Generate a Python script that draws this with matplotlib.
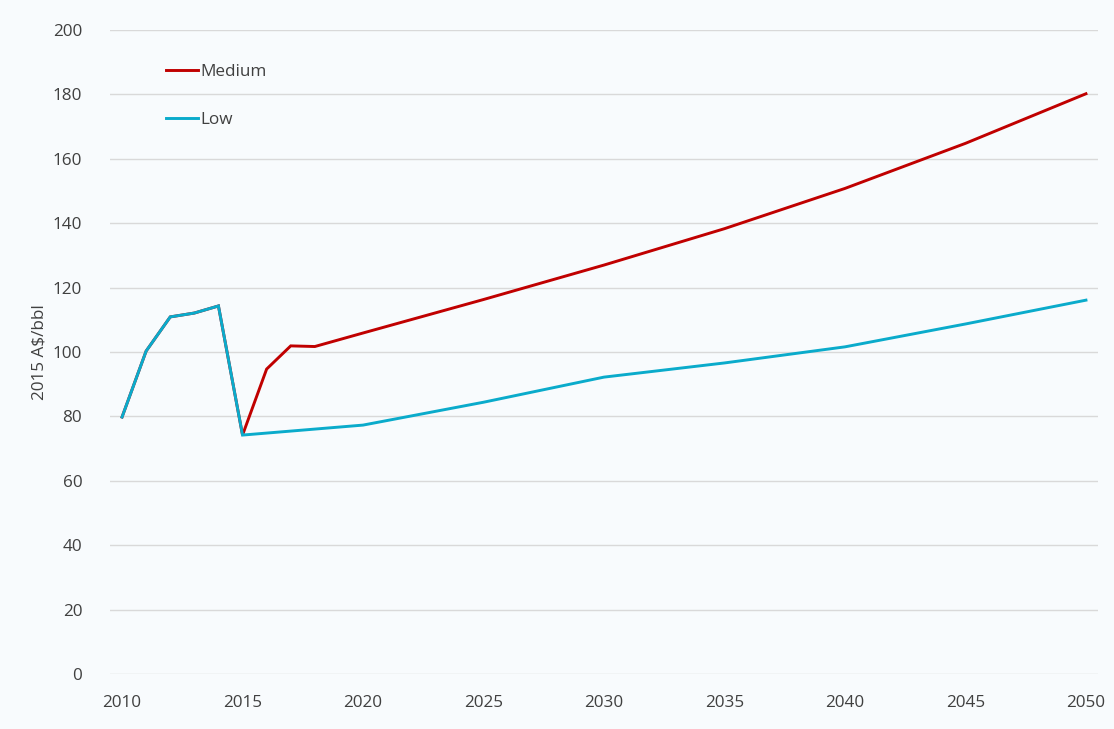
import matplotlib
matplotlib.use('Agg')
import matplotlib.pyplot as plt

# DATOS
years_hist = [2010, 2011, 2012, 2013, 2014, 2015]
price_hist = [79.8, 100.3, 110.9, 112.1, 114.3, 74.2]

years_medium = [2015, 2016, 2017, 2018, 2020, 2025, 2030, 2035, 2040, 2045, 2050]
price_medium = [74.2, 94.7, 101.9, 101.7, 105.9, 116.3, 127.0, 138.3, 150.8, 164.8, 180.2]

years_low = [2015, 2020, 2025, 2030, 2035, 2040, 2045, 2050]
price_low = [74.2, 77.3, 84.4, 92.2, 96.6, 101.6, 108.7, 116.1]

x_ticks = [2010, 2015, 2020, 2025, 2030, 2035, 2040, 2045, 2050]
y_ticks = [0, 20, 40, 60, 80, 100, 120, 140, 160, 180, 200]

# ESTILO
bg = '#F8FBFD'
red = '#C00000'
cyan = '#0AABCB'
text_color = '#404040'
plt.rcParams['font.family'] = ['Open Sans', 'DejaVu Sans']
fs = 12.3

fig = plt.figure(figsize=(11.14, 7.29), dpi=100, facecolor=bg)
ax = fig.add_axes([110 / 1114, 55 / 729, 988 / 1114, 644 / 729])
ax.set_facecolor(bg)

# series
ax.plot(years_hist + years_medium[1:], price_hist + price_medium[1:],
        color=red, lw=2.1, label='Medium', solid_joinstyle='miter')
ax.plot(years_hist + years_low[1:], price_hist + price_low[1:],
        color=cyan, lw=2.1, label='Low', solid_joinstyle='miter')

ax.set_xlim(2009.5, 2050.5)
ax.set_ylim(0, 200)
ax.set_xticks(x_ticks)
ax.set_yticks(y_ticks)
ax.grid(axis='y', color='#D9D9D9', lw=1)
ax.set_axisbelow(True)
for s in ax.spines.values():
    s.set_visible(False)
ax.tick_params(length=0, labelsize=fs, colors=text_color)
ax.tick_params(axis='y', pad=20)
ax.tick_params(axis='x', pad=15)

ax.set_ylabel('2015 A$/bbl', fontsize=fs, color=text_color, labelpad=4)

leg = ax.legend(loc='upper left', bbox_to_anchor=(0.048, 0.96), frameon=False,
                handlelength=1.9, handletextpad=0.1, labelspacing=1.85,
                fontsize=fs, borderpad=0)
for t in leg.get_texts():
    t.set_color(text_color)

fig.savefig('out.png', dpi=100, facecolor=bg)
